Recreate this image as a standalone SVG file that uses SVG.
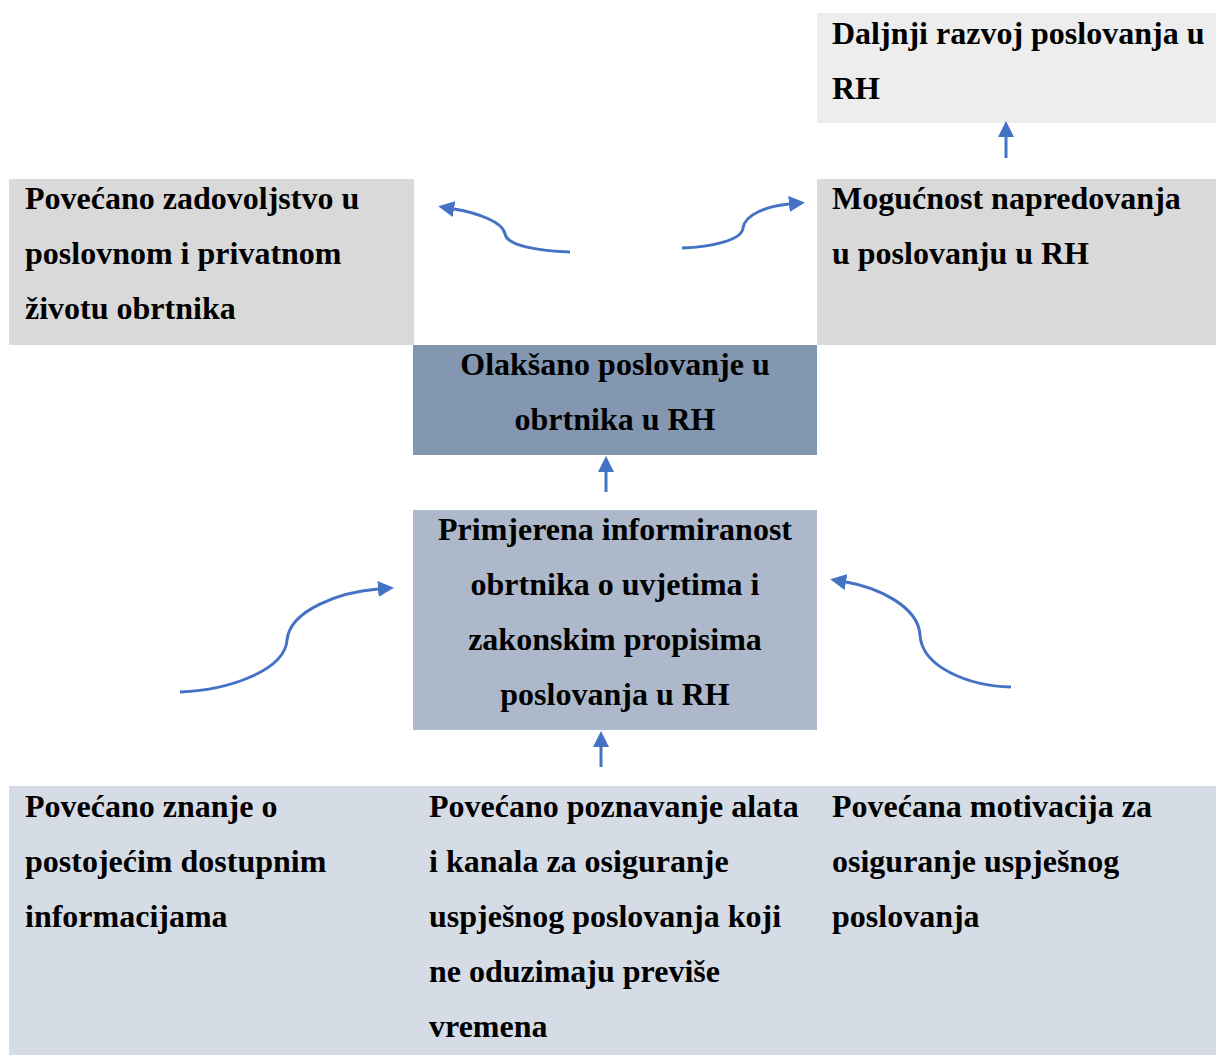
<svg xmlns="http://www.w3.org/2000/svg" width="1216" height="1055" viewBox="0 0 1216 1055">
<defs>
<style>
text{font-family:"Liberation Serif","Times New Roman",serif;font-weight:bold;font-size:32px;fill:#000}
.c{text-anchor:middle}
.arr{fill:none;stroke:#4472c4;stroke-width:3}
</style>
<marker id="ah" markerUnits="userSpaceOnUse" viewBox="0 0 16 16" refX="0" refY="8" markerWidth="16" markerHeight="16" orient="auto">
<path d="M0,0 L16,8 L0,16 z" fill="#4472c4"/>
</marker>
</defs>
<rect width="1216" height="1055" fill="#fff"/>
<g id="daljnji">
<rect x="817" y="13" width="399" height="110" fill="#ededed"/>
<text x="832" y="44">Daljnji razvoj poslovanja u</text>
<text x="832" y="99">RH</text>
</g>
<g id="zadovoljstvo">
<rect x="9" y="179" width="405" height="166" fill="#d9d9d9"/>
<text x="25" y="209">Povećano zadovoljstvo u</text>
<text x="25" y="264">poslovnom i privatnom</text>
<text x="25" y="319">životu obrtnika</text>
</g>
<g id="mogucnost">
<rect x="817" y="179" width="399" height="166" fill="#d9d9d9"/>
<text x="832" y="209">Mogućnost napredovanja</text>
<text x="832" y="264">u poslovanju u RH</text>
</g>
<g id="olaksano">
<rect x="413" y="345" width="404" height="110" fill="#8497b0"/>
<text class="c" x="615" y="375">Olakšano poslovanje u</text>
<text class="c" x="615" y="430">obrtnika u RH</text>
</g>
<g id="primjerena">
<rect x="413" y="510" width="404" height="220" fill="#adb9ca"/>
<text class="c" x="615" y="540">Primjerena informiranost</text>
<text class="c" x="615" y="595">obrtnika o uvjetima i</text>
<text class="c" x="615" y="650">zakonskim propisima</text>
<text class="c" x="615" y="705">poslovanja u RH</text>
</g>
<g id="temelji">
<rect x="9" y="786" width="1207" height="269" fill="#d6dce5"/>
<text x="25" y="817">Povećano znanje o</text>
<text x="25" y="872">postojećim dostupnim</text>
<text x="25" y="927">informacijama</text>
<text x="429" y="817">Povećano poznavanje alata</text>
<text x="429" y="872">i kanala za osiguranje</text>
<text x="429" y="927">uspješnog poslovanja koji</text>
<text x="429" y="982">ne oduzimaju previše</text>
<text x="429" y="1037">vremena</text>
<text x="832" y="817">Povećana motivacija za</text>
<text x="832" y="872">osiguranje uspješnog</text>
<text x="832" y="927">poslovanja</text>
</g>
<g id="connectors">
<path class="arr" marker-end="url(#ah)" d="M1006,158 L1006,137"/>
<path class="arr" marker-end="url(#ah)" d="M606,492 L606,472"/>
<path class="arr" marker-end="url(#ah)" d="M601,767 L601,747"/>
<path class="arr" marker-end="url(#ah)" d="M570,252 C540,251 507,246 505,234 C503,222 478,213 454,209"/>
<path class="arr" marker-end="url(#ah)" d="M682,248 C712,247 742,240 743,228 C745,214 768,206 789,204"/>
<path class="arr" marker-end="url(#ah)" d="M180,692 C230,690 285,670 287,640 C290,610 340,592 378,589"/>
<path class="arr" marker-end="url(#ah)" d="M1011,687 C970,686 922,668 920,635 C918,605 875,587 846,582"/>
</g>
</svg>
